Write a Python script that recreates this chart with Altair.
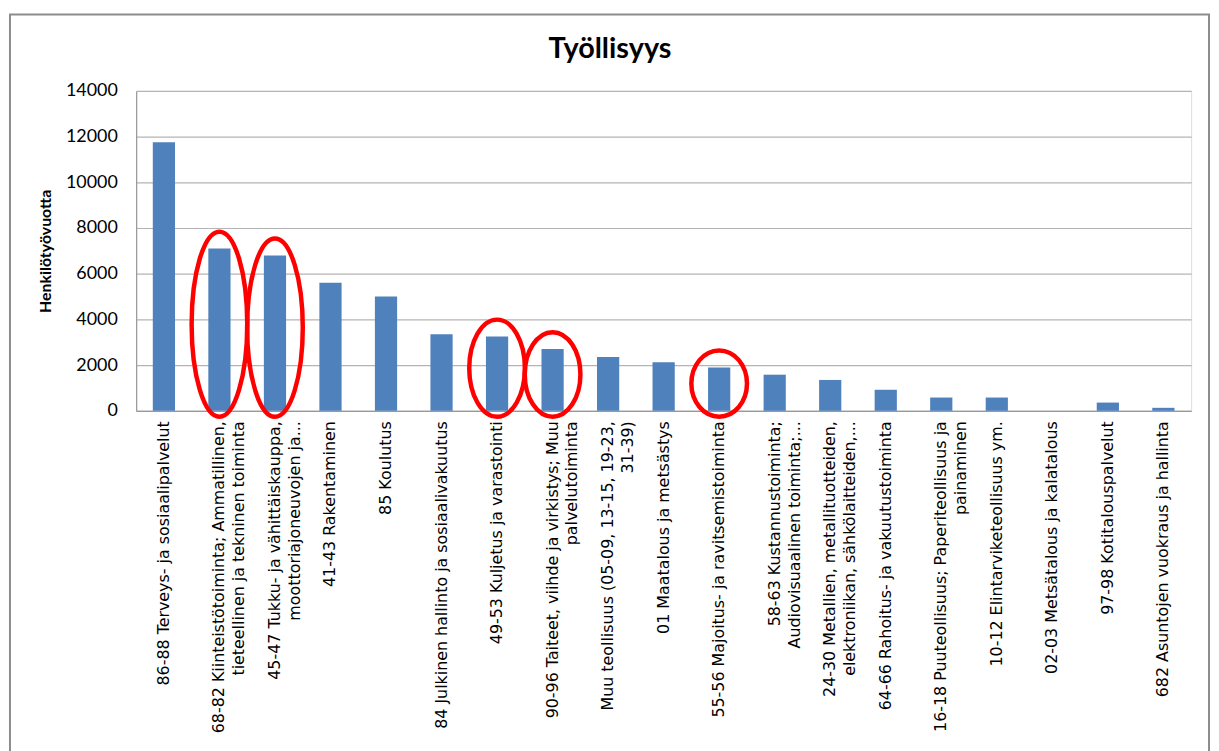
import altair as alt
import pandas as pd

categories = [
    "86-88 Terveys- ja sosiaalipalvelut",
    "68-82 Kiinteistötoiminta; Ammatillinen,\ntieteellinen ja tekninen toiminta",
    "45-47 Tukku- ja vähittäiskauppa,\nmoottoriajoneuvojen ja...",
    "41-43 Rakentaminen",
    "85 Koulutus",
    "84 Julkinen hallinto ja sosiaalivakuutus",
    "49-53 Kuljetus ja varastointi",
    "90-96 Taiteet, viihde ja virkistys; Muu\npalvelutoiminta",
    "Muu teollisuus (05-09, 13-15, 19-23,\n31-39)",
    "01 Maatalous ja metsästys",
    "55-56 Majoitus- ja ravitsemistoiminta",
    "58-63 Kustannustoiminta;\nAudiovisuaalinen toiminta;...",
    "24-30 Metallien, metallituotteiden,\nelektroniikan, sähkölaitteiden,...",
    "64-66 Rahoitus- ja vakuutustoiminta",
    "16-18 Puuteollisuus; Paperiteollisuus ja\npainaminen",
    "10-12 Elintarviketeollisuus ym.",
    "02-03 Metsätalous ja kalatalous",
    "97-98 Kotitalouspalvelut",
    "682 Asuntojen vuokraus ja hallinta",
]
values = [11750, 7100, 6800, 5600, 5000, 3350, 3250, 2700, 2350, 2120,
          1900, 1580, 1350, 920, 580, 580, 0, 360, 130]
highlighted = [1, 2, 6, 7, 10]   # indices of circled categories

title_text = "Työllisyys"
y_title = "Henkilötyövuotta"
y_ticks = [0, 2000, 4000, 6000, 8000, 10000, 12000, 14000]

df = pd.DataFrame({"category": categories, "value": values})
hl = df.iloc[highlighted].reset_index(drop=True)

W, H = 1062, 322
PX_PER_UNIT = H / 14000

xscale = alt.Scale(paddingInner=0.6, paddingOuter=0.3)
xenc = alt.X("category:N", sort=categories, scale=xscale,
             axis=alt.Axis(title=None, labelAngle=270, labelAlign="right",
                           labelBaseline="middle", labelExpr="split(datum.label, '\\n')",
                           labelFont="DejaVu Sans", labelFontSize=16, labelColor="#000000",
                           labelLineHeight=20, labelLimit=400, labelPadding=10,
                           ticks=False, domainColor="#999999", domainWidth=1.2))

yscale = alt.Scale(domain=[0, 14000], nice=False)

bars = alt.Chart(df).mark_bar(color="#4f81bd").encode(
    x=xenc,
    y=alt.Y("value:Q", scale=yscale,
            axis=alt.Axis(title=y_title, values=y_ticks, format="d",
                          labelFont="Lato", labelFontSize=18, labelColor="#000000",
                          labelPadding=19, ticks=False,
                          titleFont="Lato", titleFontSize=16, titleFontWeight="bold",
                          titleColor="#000000", titlePadding=12,
                          domainColor="#999999", domainWidth=1.2,
                          gridColor="#b4b4b4", gridWidth=1.2)),
)

ellipses = alt.Chart(hl).transform_calculate(
    yc="(datum.value + 480) / 2",
    ry=f"(datum.value + 1000) * {PX_PER_UNIT} / 2",
).transform_calculate(
    path="'M -28 0 A 28 ' + datum.ry + ' 0 1 0 28 0 A 28 ' + datum.ry + ' 0 1 0 -28 0 Z'"
).mark_point(filled=False, color="#ff0000", strokeWidth=4.5, opacity=1, size=4, clip=False).encode(
    x=alt.X("category:N", sort=categories, scale=xscale),
    y=alt.Y("yc:Q", scale=yscale),
    shape=alt.Shape("path:N", scale=None),
)

frame = alt.Chart(pd.DataFrame({"k": [0]})).mark_rect(
    fillOpacity=0, stroke="#8c8c8c", strokeWidth=2, clip=False
).encode(
    x=alt.value(-127), x2=alt.value(1080), y=alt.value(-77), y2=alt.value(700)
)

chart = alt.layer(bars, ellipses, frame).properties(
    width=W, height=H,
    title=alt.TitleParams(title_text, font="Lato", fontSize=29, fontWeight="bold",
                          color="#000000", anchor="middle", dx=-54, offset=0, dy=51),
    autosize=alt.AutoSizeParams(type="none"),
    padding={"left": 129, "top": 81, "right": 20, "bottom": 340},
).configure_view(stroke=None).configure(background="#ffffff")

chart.save("out.html", embed_options={"renderer": "svg", "actions": False})
